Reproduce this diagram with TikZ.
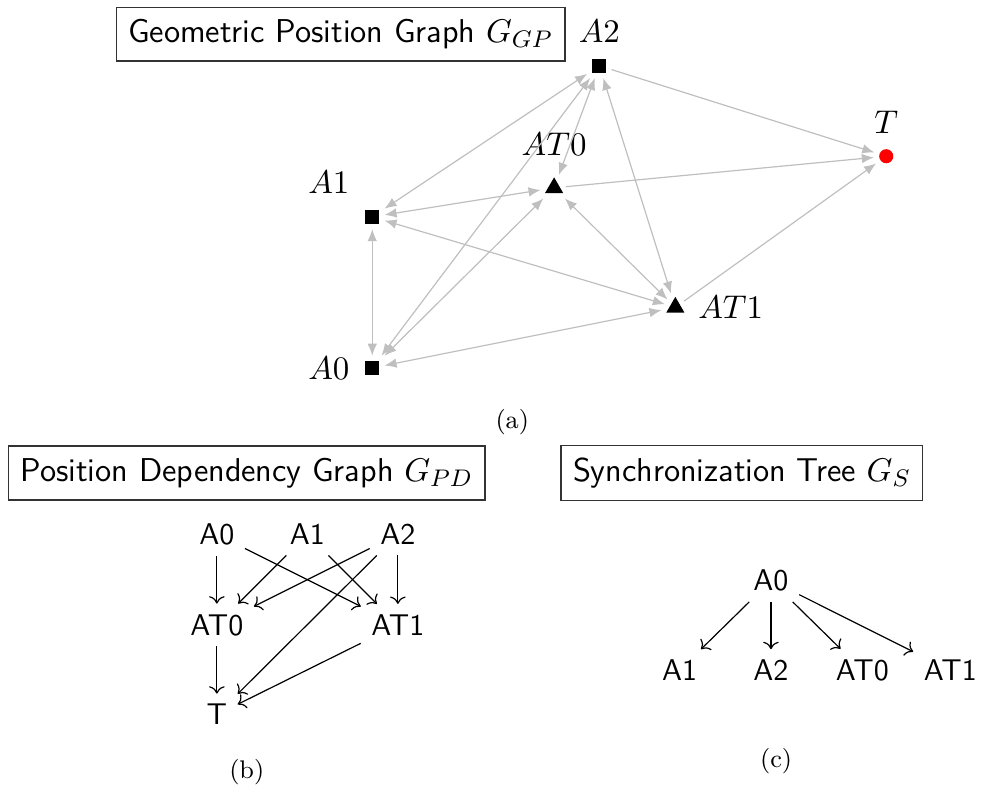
\documentclass[tikz,border=0pt]{standalone}
\usepackage{tikz}
\usetikzlibrary{arrows.meta,positioning,shapes.geometric}

\begin{document}
\begin{tikzpicture}[
  on grid,
  agent/.style={rectangle,fill=black,minimum size=4.6pt,inner sep=0pt,outer sep=1.8pt},
  anchr/.style={regular polygon,regular polygon sides=3,fill=black,
                minimum size=7pt,inner sep=0pt,outer sep=1.8pt},
  goal/.style={circle,fill=red,minimum size=4.7pt,inner sep=0pt,outer sep=1.8pt},
  glabel/.style={font=\fontsize{11}{13}\selectfont},
  title/.style={draw=black!80,thin,inner sep=4pt,
                font=\sffamily\fontsize{11}{13}\selectfont},
  item/.style={font=\sffamily},
  subcap/.style={font=\fontsize{8.5}{10}\selectfont},
  geo/.style={draw=black!25,line width=0.4pt,>={Latex[length=4pt,width=3.2pt]}}
]

  \useasboundingbox (0,0) rectangle (11.49,-9.22);

  % (a) geometric position graph
  \node[title] (ggp) at (3.99,-0.40) {Geometric Position Graph $G_{GP}$};

  \node[agent,label={[glabel]above:$A2$}] (a2) at (7.02,-0.77) {};
  \node[goal,label={[glabel]above:$T$}] (t) at (10.38,-1.83) {};
  \node[anchr,label={[glabel]above:$AT0$}] (at0) at (6.49,-2.20) {};
  \node[agent,label={[glabel]above left:$A1$}] (a1) at (4.36,-2.54) {};
  \node[anchr,label={[glabel]right:$AT1$}] (at1) at (7.91,-3.60) {};
  \node[agent,label={[glabel]left:$A0$}] (a0) at (4.36,-4.31) {};

  \draw[geo,<->] (a0) -- (a1);
  \draw[geo,<->] (a0) -- (a2);
  \draw[geo,<->] (a0) -- (at0);
  \draw[geo,<->] (a0) -- (at1);
  \draw[geo,<->] (a1) -- (a2);
  \draw[geo,<->] (a1) -- (at0);
  \draw[geo,<->] (a1) -- (at1);
  \draw[geo,<->] (a2) -- (at0);
  \draw[geo,<->] (a2) -- (at1);
  \draw[geo,<->] (at0) -- (at1);
  \draw[geo,->] (a2) -- (t);
  \draw[geo,->] (at0) -- (t);
  \draw[geo,->] (at1) -- (t);

  \node[subcap] (capa) at (6.00,-4.94) {(a)};

  % (b) position dependency graph
  \node[title] (gpd) at (2.89,-5.54) {Position Dependency Graph $G_{PD}$};

  \node[item] (pa0) at (2.54,-6.26) {A0};
  \node[item,right=1.06cm of pa0] (pa1) {A1};
  \node[item,right=1.06cm of pa1] (pa2) {A2};
  \node[item,below=1.06cm of pa0] (pat0) {AT0};
  \node[item,below=1.06cm of pa2] (pat1) {AT1};
  \node[item,below=1.05cm of pat0] (pt) {T};

  \draw[->] (pa0) -- (pat0);
  \draw[->] (pa0) -- (pat1);
  \draw[->] (pa1) -- (pat0);
  \draw[->] (pa1) -- (pat1);
  \draw[->] (pa2) -- (pat0);
  \draw[->] (pa2) -- (pat1);
  \draw[->] (pa2) -- (pt);
  \draw[->] (pat0) -- (pt);
  \draw[->] (pat1) -- (pt);

  \node[subcap] (capb) at (2.89,-9.04) {(b)};

  % (c) synchronization tree
  \node[title] (gs) at (8.69,-5.54) {Synchronization Tree $G_S$};

  \node[item] (sa0) at (9.03,-6.80) {A0};
  \node[item,below=1.05cm of sa0] (sa2) {A2};
  \node[item,left=1.07cm of sa2] (sa1) {A1};
  \node[item,right=1.07cm of sa2] (sat0) {AT0};
  \node[item,right=1.03cm of sat0] (sat1) {AT1};

  \draw[->] (sa0) -- (sa1);
  \draw[->] (sa0) -- (sa2);
  \draw[->] (sa0) -- (sat0);
  \draw[->] (sa0) -- (sat1);

  \node[subcap] (capc) at (9.09,-8.92) {(c)};

\end{tikzpicture}
\end{document}
